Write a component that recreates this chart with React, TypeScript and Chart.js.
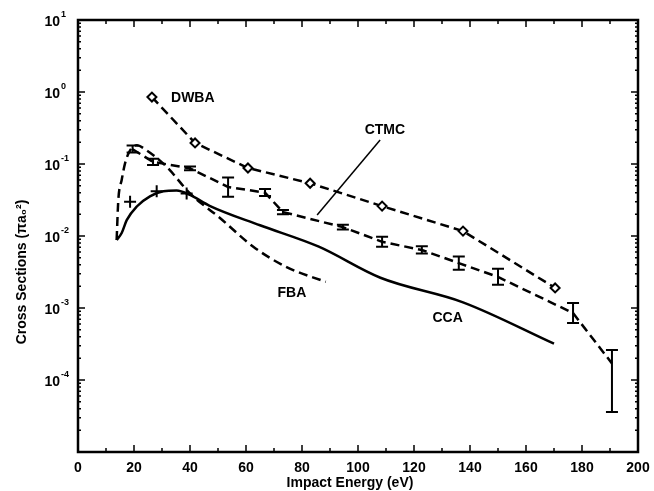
import React, { useEffect, useRef } from 'react';
import { Chart, registerables } from 'chart.js';
Chart.register(...registerables);

// ---- data (energies in eV, cross sections in pi a0^2) ----
const ccaEnergy = [13.8, 15.6, 17.4, 21, 25.7, 30.5, 35.2, 40, 47, 65, 86, 108, 137.5, 170];
const ccaValues = [0.0088, 0.011, 0.0166, 0.0257, 0.0355, 0.0417, 0.0427, 0.0372, 0.0263, 0.0141, 0.0071, 0.00263, 0.0012, 0.00032];

const fbaEnergy = [13.8, 14.4, 15.6, 16.8, 18.6, 21, 24.5, 31.7, 40, 50.7, 62.6, 74.5, 88.5];
const fbaValues = [0.0088, 0.0316, 0.06, 0.102, 0.155, 0.182, 0.155, 0.091, 0.039, 0.0178, 0.0071, 0.0037, 0.0023];

const ctmcEnergy = [19.5, 26.8, 40, 53.6, 66.8, 73.2, 94.6, 108.6, 122.8, 136, 150, 176.8, 190.7];
const ctmcValues = [0.16, 0.107, 0.087, 0.048, 0.04, 0.0215, 0.0133, 0.0083, 0.0064, 0.0042, 0.0027, 0.00085, 0.00017];
const ctmcLow = [0.145, 0.097, 0.082, 0.035, 0.036, 0.02, 0.0123, 0.0071, 0.0057, 0.0034, 0.0021, 0.00062, 0.000036];
const ctmcHigh = [0.18, 0.118, 0.092, 0.065, 0.045, 0.023, 0.0143, 0.0098, 0.0072, 0.0052, 0.0035, 0.00117, 0.00026];

const dwbaEnergy = [26.4, 41.8, 60.7, 82.9, 108.6, 137.5, 170.4];
const dwbaValues = [0.85, 0.196, 0.088, 0.054, 0.026, 0.0117, 0.0019];

const crossEnergy = [18.6, 28.1, 38.8];
const crossValues = [0.03, 0.042, 0.039];

const xTickStep = 20;
const yTickExponents = [1, 0, -1, -2, -3, -4];

// curve labels (anchored in data coordinates)
const curveLabels = [
  { text: 'DWBA', x: 41, y: 0.83 },
  { text: 'CTMC', x: 109.6, y: 0.295 },
  { text: 'CCA', x: 132, y: 0.00072 },
  { text: 'FBA', x: 76.4, y: 0.0016 },
];
const leaderFrom = { x: 107.9, y: 0.215 };
const leaderTo = { x: 85.4, y: 0.0196 };

const pts = (xs: number[], ys: number[]) => xs.map((x, i) => ({ x, y: ys[i] }));

const FONT = '"Liberation Sans", Arial, sans-serif';

const decorPlugin = {
  id: 'decor',
  afterDatasetsDraw(chart: any) {
    const { ctx, scales } = chart;
    const xs = scales.x, ys = scales.y;
    ctx.save();
    ctx.strokeStyle = '#000';
    ctx.lineWidth = 2;
    ctx.setLineDash([]);
    ctmcEnergy.forEach((e, i) => {
      const px = xs.getPixelForValue(e);
      const lo = ys.getPixelForValue(ctmcLow[i]);
      const hi = ys.getPixelForValue(ctmcHigh[i]);
      ctx.beginPath();
      ctx.moveTo(px, lo); ctx.lineTo(px, hi);
      ctx.moveTo(px - 6, lo); ctx.lineTo(px + 6, lo);
      ctx.moveTo(px - 6, hi); ctx.lineTo(px + 6, hi);
      ctx.stroke();
    });
    ctx.restore();
  },
  afterDraw(chart: any) {
    const { ctx, chartArea: a, scales } = chart;
    const xs = scales.x, ys = scales.y;
    ctx.save();
    ctx.strokeStyle = '#000';
    ctx.fillStyle = '#000';
    ctx.setLineDash([]);
    // x tick marks (bottom & top, inward)
    ctx.lineWidth = 1.5;
    ctx.beginPath();
    for (let v = 0; v <= 200; v += xTickStep / 2) {
      const px = xs.getPixelForValue(v);
      const len = v % xTickStep === 0 ? 7 : 4;
      ctx.moveTo(px, a.bottom); ctx.lineTo(px, a.bottom - len);
      ctx.moveTo(px, a.top); ctx.lineTo(px, a.top + len);
    }
    // y tick marks (left & right, inward)
    for (let e = -5; e <= 1; e++) {
      for (let k = 1; k <= 9; k++) {
        const v = k * Math.pow(10, e);
        if (v > 10.0001) break;
        const py = ys.getPixelForValue(v);
        const len = k === 1 ? 7 : 3;
        ctx.moveTo(a.left, py); ctx.lineTo(a.left + len, py);
        ctx.moveTo(a.right, py); ctx.lineTo(a.right - len, py);
      }
    }
    ctx.stroke();
    // frame
    ctx.lineWidth = 2.5;
    ctx.strokeRect(a.left, a.top, a.right - a.left, a.bottom - a.top);

    // y tick labels 10^n
    yTickExponents.forEach((n) => {
      const py = ys.getPixelForValue(Math.pow(10, n));
      ctx.font = `bold 14px ${FONT}`;
      ctx.textAlign = 'right';
      ctx.textBaseline = 'middle';
      ctx.fillText('10', 60, py + 2);
      ctx.font = `bold 9px ${FONT}`;
      ctx.textAlign = 'left';
      ctx.fillText(n < 0 ? '-' + Math.abs(n) : String(n), 61, py - 5);
    });

    // axis titles
    ctx.font = `bold 14px ${FONT}`;
    ctx.textAlign = 'center';
    ctx.textBaseline = 'middle';
    ctx.fillText('Impact Energy (eV)', 350, 483);
    ctx.save();
    ctx.translate(22, 272);
    ctx.rotate(-Math.PI / 2);
    ctx.fillText('Cross Sections (\u03C0a\u2080\u00B2)', 0, 0);
    ctx.restore();

    // curve labels
    ctx.font = `bold 14px ${FONT}`;
    curveLabels.forEach((l) => {
      ctx.fillText(l.text, xs.getPixelForValue(l.x), ys.getPixelForValue(l.y));
    });
    // CTMC leader line
    ctx.lineWidth = 1.5;
    ctx.beginPath();
    ctx.moveTo(xs.getPixelForValue(leaderFrom.x), ys.getPixelForValue(leaderFrom.y));
    ctx.lineTo(xs.getPixelForValue(leaderTo.x), ys.getPixelForValue(leaderTo.y));
    ctx.stroke();
    ctx.restore();
  },
};

export default function App() {
  const ref = useRef<HTMLCanvasElement>(null);
  useEffect(() => {
    if (!ref.current) return;
    const dash = [9, 5];
    const chart = new Chart(ref.current, {
      type: 'line',
      data: {
        datasets: [
          {
            label: 'CCA', data: pts(ccaEnergy, ccaValues), borderColor: '#000', borderWidth: 2.5,
            pointRadius: 0, cubicInterpolationMode: 'monotone', fill: false,
          },
          {
            label: 'FBA', data: pts(fbaEnergy, fbaValues), borderColor: '#000', borderWidth: 2.5,
            borderDash: dash, pointRadius: 0, cubicInterpolationMode: 'monotone', fill: false,
          },
          {
            label: 'CTMC', data: pts(ctmcEnergy, ctmcValues), borderColor: '#000', borderWidth: 2.5,
            borderDash: dash, pointRadius: 0, tension: 0, fill: false,
          },
          {
            label: 'DWBA', data: pts(dwbaEnergy, dwbaValues), borderColor: '#000', borderWidth: 2.5,
            borderDash: dash, pointStyle: 'rectRot', pointRadius: 4.5, pointBorderWidth: 2,
            pointBackgroundColor: '#fff', pointBorderColor: '#000', tension: 0, fill: false,
          },
          {
            label: 'Expt', data: pts(crossEnergy, crossValues), showLine: false, borderColor: '#000',
            pointStyle: 'cross', pointRadius: 6, pointBorderWidth: 2, pointBorderColor: '#000',
          },
        ] as any,
      },
      options: {
        responsive: false,
        animation: false,
        devicePixelRatio: 1,
        layout: { padding: { left: 0, right: 16, top: 20, bottom: 0 } },
        plugins: { legend: { display: false }, tooltip: { enabled: false } },
        scales: {
          x: {
            type: 'linear', min: 0, max: 200,
            grid: { display: false, drawTicks: true, tickLength: 6 },
            border: { display: false },
            ticks: {
              stepSize: xTickStep, color: '#000', padding: 2, maxRotation: 0, autoSkip: false,
              font: { family: FONT, size: 14, weight: 'bold' },
            },
            afterFit: (s: any) => { s.height = 39; },
          },
          y: {
            type: 'logarithmic', min: 1e-5, max: 10,
            grid: { display: false },
            border: { display: false },
            ticks: { display: false },
            afterFit: (s: any) => { s.width = 78; },
          },
        },
      } as any,
      plugins: [decorPlugin],
    });
    return () => chart.destroy();
  }, []);
  return (
    <div style={{ position: 'absolute', left: 0, top: 0, width: 654, height: 491, background: '#fff' }}>
      <canvas ref={ref} width={654} height={491} style={{ display: 'block' }} />
    </div>
  );
}
